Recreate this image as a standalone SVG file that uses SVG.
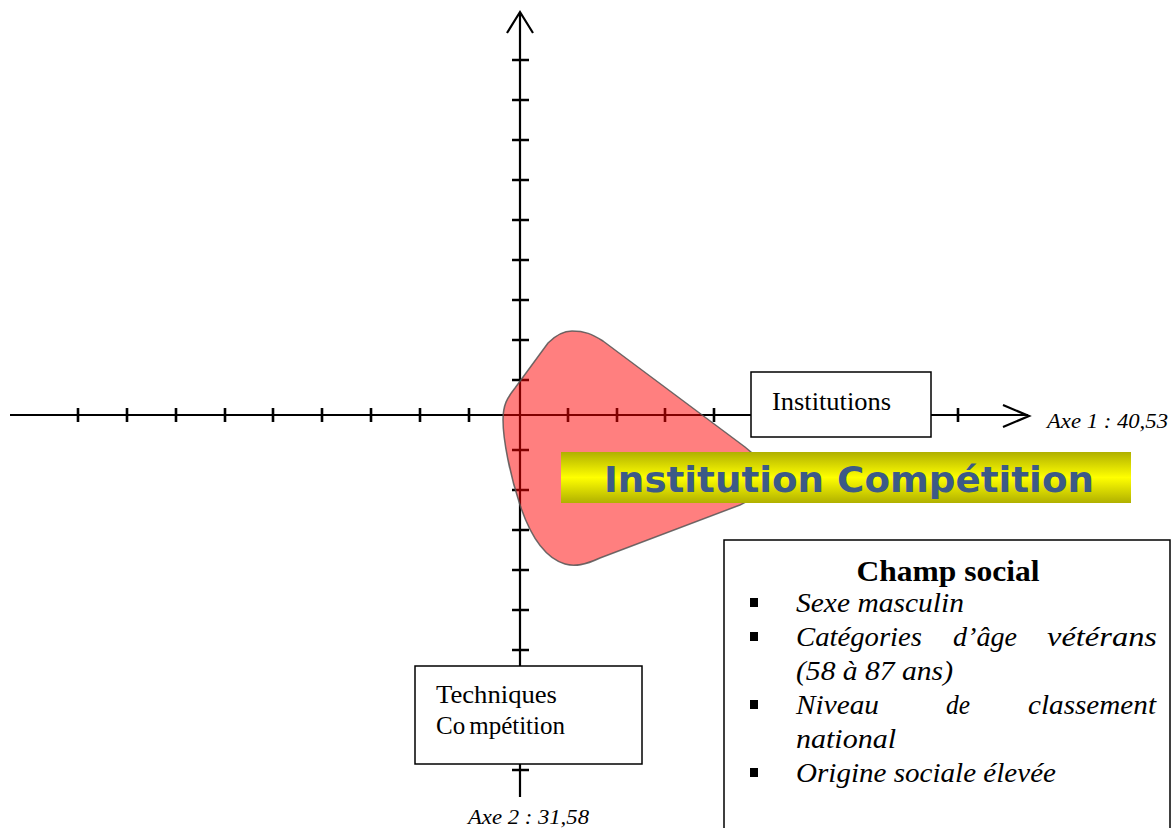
<svg xmlns="http://www.w3.org/2000/svg" width="1172" height="828" viewBox="0 0 1172 828">
<style>
.ax{stroke:#000;stroke-width:2.2;fill:none}
.tk{stroke:#000;stroke-width:2.6;fill:none}
.box{fill:#fff;stroke:#000;stroke-width:1.5}
.serif{font-family:"Liberation Serif","Times New Roman",serif;fill:#000}
.it{font-style:italic}
.lbl{font-size:25px}
.item{font-size:27px;font-style:italic}
</style>
<defs>
<linearGradient id="yg" x1="0" y1="0" x2="0" y2="1">
<stop offset="0" stop-color="#b0b000"/>
<stop offset="0.5" stop-color="#ffff00"/>
<stop offset="1" stop-color="#b0b000"/>
</linearGradient>
</defs>
<rect width="1172" height="828" fill="#fff"/>
<g id="axes">
<path class="ax" d="M10,415 H1028 M1003,405 L1029,416 L1003,427"/>
<path class="ax" d="M520,12 V797 M507,33 L520,12 L533,33"/>
<path class="tk" d="M78,408V422 M127,408V422 M176,408V422 M225,408V422 M273,408V422 M322,408V422 M371,408V422 M420,408V422 M469,408V422 M568,408V422 M617,408V422 M665,408V422 M714,408V422 M763,408V422 M812,408V422 M860,408V422 M909,408V422 M958,408V422"/>
<path class="tk" d="M512,60H529 M512,100H529 M512,140H529 M512,180H529 M512,220H529 M512,260H529 M512,300H529 M512,340H529 M512,380H529 M512,450H529 M512,490H529 M512,530H529 M512,570H529 M512,610H529 M512,650H529 M512,690H529 M512,730H529 M512,770H529"/>
</g>
<g id="zone">
<path d="M572,331 C585,331 592,334 603,341 L745,447 C775,470 770,492 740,505 L600,558 C585,565 575,567 565,564 C545,558 530,535 520,505 C510,475 503,440 503,420 C503,405 507,398 515,388 L548,343 C556,335 563,331 572,331 Z" fill="#ff0000" fill-opacity="0.5" stroke="#555" stroke-opacity="0.85" stroke-width="1.5"/>
</g>
<text class="serif it" x="1047" y="428" font-size="20" textLength="121" lengthAdjust="spacingAndGlyphs">Axe 1 : 40,53</text>
<text class="serif it" x="468" y="824" font-size="20" textLength="121" lengthAdjust="spacingAndGlyphs">Axe 2 : 31,58</text>
<g id="institutions">
<rect class="box" x="751" y="372" width="180" height="65"/>
<text class="serif lbl" x="772" y="410" textLength="119" lengthAdjust="spacingAndGlyphs">Institutions</text>
</g>
<g id="techniques">
<rect class="box" x="415" y="666" width="227" height="98"/>
<text class="serif lbl" x="436" y="703" textLength="121" lengthAdjust="spacingAndGlyphs">Techniques</text>
<text class="serif lbl" x="436" y="734">Co<tspan dx="4">mpétition</tspan></text>
</g>
<g id="banner">
<rect x="561" y="452" width="570" height="51" fill="url(#yg)"/>
<text x="604" y="492" font-family="'DejaVu Sans',Verdana,sans-serif" font-weight="bold" font-size="36" fill="#3c5a87" textLength="490" lengthAdjust="spacingAndGlyphs">Institution Compétition</text>
</g>
<g id="champ">
<rect class="box" x="724" y="540" width="446" height="300"/>
<text class="serif" x="948" y="581" font-size="30" font-weight="bold" text-anchor="middle" textLength="183" lengthAdjust="spacingAndGlyphs">Champ social</text>
<g fill="#000">
<rect x="750" y="598" width="8" height="9"/>
<rect x="750" y="632" width="8" height="9"/>
<rect x="750" y="700" width="8" height="9"/>
<rect x="750" y="768" width="8" height="9"/>
</g>
<text class="serif item" x="796" y="612" textLength="168" lengthAdjust="spacingAndGlyphs">Sexe masculin</text>
<text class="serif item" x="796" y="646" textLength="126" lengthAdjust="spacingAndGlyphs">Catégories</text>
<text class="serif item" x="953" y="646" textLength="64" lengthAdjust="spacingAndGlyphs">d’âge</text>
<text class="serif item" x="1047" y="646" textLength="110" lengthAdjust="spacingAndGlyphs">vétérans</text>
<text class="serif item" x="796" y="680" textLength="157" lengthAdjust="spacingAndGlyphs">(58 à 87 ans)</text>
<text class="serif item" x="796" y="714" textLength="83" lengthAdjust="spacingAndGlyphs">Niveau</text>
<text class="serif item" x="946" y="714" textLength="24" lengthAdjust="spacingAndGlyphs">de</text>
<text class="serif item" x="1028" y="714" textLength="128" lengthAdjust="spacingAndGlyphs">classement</text>
<text class="serif item" x="796" y="748" textLength="100" lengthAdjust="spacingAndGlyphs">national</text>
<text class="serif item" x="796" y="782" textLength="260" lengthAdjust="spacingAndGlyphs">Origine sociale élevée</text>
</g>
</svg>
